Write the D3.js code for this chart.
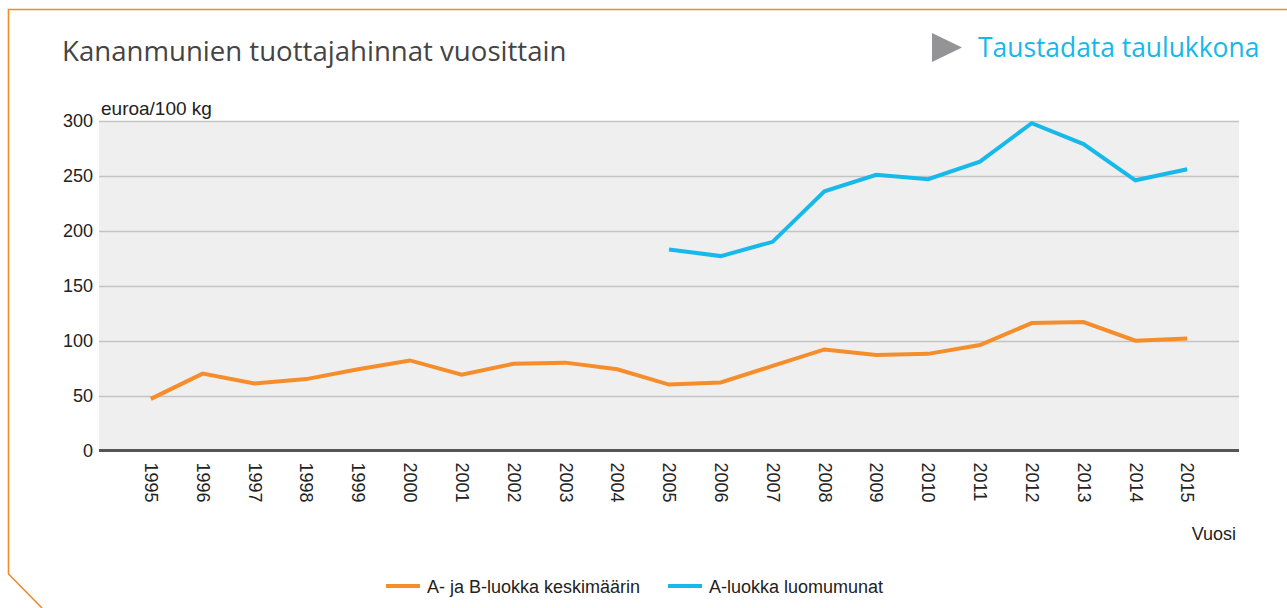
<!DOCTYPE html>
<html><head><meta charset="utf-8">
<script src="https://cdn.jsdelivr.net/npm/d3@7"></script>
<style>
html,body{margin:0;padding:0;background:#fff;}
svg{display:block;}
</style></head>
<body>
<svg id="chart" width="1287" height="608"></svg>
<script>
const years = ["1995","1996","1997","1998","1999","2000","2001","2002","2003","2004","2005","2006","2007","2008","2009","2010","2011","2012","2013","2014","2015"];
const abAverage = [47,70,61,65,74,82,69,79,80,74,60,62,77,92,87,88,96,116,117,100,102];
const organicYears = ["2005","2006","2007","2008","2009","2010","2011","2012","2013","2014","2015"];
const organicA = [183,177,190,236,251,247,263,298,279,246,256];
const yTicks = [0,50,100,150,200,250,300];
const seriesNames = ["A- ja B-luokka keskimäärin","A-luokka luomumunat"];
const seriesColors = ["#f58d2b","#17b9ea"];
const titleText = "Kananmunien tuottajahinnat vuosittain";
const linkText = "Taustadata taulukkona";
const yUnit = "euroa/100 kg";
const xTitle = "Vuosi";

const svg = d3.select("#chart");
const pL = 99, pR = 1239, pT = 121, pB = 450.5;
const axisFont = "'Liberation Sans', Arial, sans-serif";

// frame
svg.append("path")
  .attr("d", "M1287,9.5 L8.5,9.5 L8.5,574 L42,608")
  .attr("fill","none").attr("stroke","#f08a2a").attr("stroke-width",1.6);

svg.append("text").attr("x",62).attr("y",61)
  .attr("font-family","'Open Sans', sans-serif").attr("font-size",27.6)
  .attr("fill","#444").text(titleText);

svg.append("path").attr("d","M932,33 L962,47.5 L932,62 Z").attr("fill","#949496");
svg.append("text").attr("x",978).attr("y",57)
  .attr("font-family","'Open Sans', sans-serif").attr("font-size",26.4)
  .attr("fill","#15b8e8").text(linkText);

const x = d3.scalePoint().domain(years).range([pL,pR]).padding(1);
const y = d3.scaleLinear().domain([0,300]).range([pB,pT]);

svg.append("rect").attr("x",pL).attr("y",pT).attr("width",pR-pL).attr("height",pB-pT).attr("fill","#efefef");

svg.append("g").selectAll("line").data(yTicks.filter(d=>d>0)).join("line")
  .attr("x1",pL).attr("x2",pR).attr("y1",d=>Math.round(y(d))+0.5).attr("y2",d=>Math.round(y(d))+0.5)
  .attr("stroke","#c4c4c4").attr("stroke-width",1.5);

const yAxis = svg.append("g").attr("transform",`translate(${pL},0)`)
  .call(d3.axisLeft(y).tickValues(yTicks).tickSize(0).tickPadding(6));
yAxis.select(".domain").remove();
yAxis.selectAll("text").attr("font-family",axisFont).attr("font-size",18).attr("fill","#222");

const xAxis = svg.append("g").attr("transform",`translate(0,${pB})`)
  .call(d3.axisBottom(x).tickSize(0));
xAxis.select(".domain").attr("d",`M${pL},0H${pR}`).attr("stroke","#555").attr("stroke-width",3);
xAxis.selectAll("text")
  .attr("font-family",axisFont).attr("font-size",18).attr("fill","#222")
  .attr("transform","rotate(90)").attr("text-anchor","start").attr("x",12).attr("y",0).attr("dy","0.35em");

svg.append("text").attr("x",101).attr("y",115)
  .attr("font-family",axisFont).attr("font-size",19).attr("fill","#222").text(yUnit);
svg.append("text").attr("x",1236).attr("y",540).attr("text-anchor","end")
  .attr("font-family",axisFont).attr("font-size",18).attr("fill","#222").text(xTitle);

const line = d3.line().x(d=>x(d.year)).y(d=>y(d.v));
const s1 = years.map((yr,i)=>({year:yr,v:abAverage[i]}));
const s2 = organicYears.map((yr,i)=>({year:yr,v:organicA[i]}));
[s1,s2].forEach((s,i)=>{
  svg.append("path").datum(s).attr("d",line).attr("fill","none")
    .attr("stroke",seriesColors[i]).attr("stroke-width",4).attr("stroke-linejoin","miter");
});

// legend
const legendX = [386, 668];
const lg = svg.append("g");
seriesNames.forEach((n,i)=>{
  lg.append("line").attr("x1",legendX[i]).attr("x2",legendX[i]+34).attr("y1",586).attr("y2",586)
    .attr("stroke",seriesColors[i]).attr("stroke-width",4);
  lg.append("text").attr("x",legendX[i]+41).attr("y",592.5)
    .attr("font-family",axisFont).attr("font-size",18).attr("fill","#222").text(n);
});
</script>
</body></html>
